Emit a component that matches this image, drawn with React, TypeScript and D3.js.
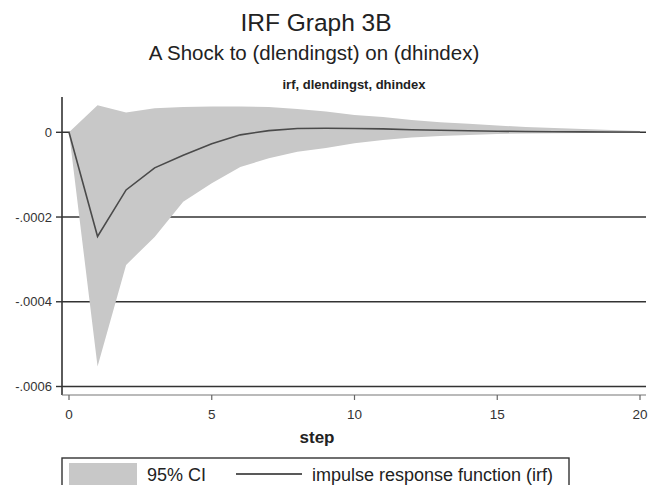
import React from "react";
import * as d3 from "d3";

const steps = d3.range(0, 21);
const irf = [0, -0.000246, -0.000136, -0.000084, -0.000054, -0.000027, -0.000006, 0.000004, 0.000009, 0.0000095, 0.000009, 0.000008, 0.000006, 0.0000047, 0.0000035, 0.0000026, 0.0000019, 0.0000014, 0.000001, 0.0000008, 0.0000006];
const ciUpper = [0, 0.000064, 0.000047, 0.000057, 0.00006, 0.000061, 0.000061, 0.00006, 0.000055, 0.000049, 0.000041, 0.000036, 0.000029, 0.000024, 0.00002, 0.000016, 0.0000125, 0.00001, 0.0000078, 0.0000054, 0.000003];
const ciLower = [0, -0.000553, -0.000313, -0.000247, -0.000164, -0.00012, -0.000082, -0.000061, -0.000046, -0.000037, -0.000026, -0.000018, -0.000012, -0.0000087, -0.0000064, -0.000004, -0.0000028, -0.000002, -0.0000016, -0.0000012, -0.0000005];
const yTicks = [0, -0.0002, -0.0004, -0.0006];
const yTickLabels = ["0", "-.0002", "-.0004", "-.0006"];
const xTicks = [0, 5, 10, 15, 20];

const FONT = "'Liberation Sans', Arial, sans-serif";

export default function App() {
  const x = d3.scaleLinear().domain([0, 20]).range([69, 640]);
  const y = d3.scaleLinear().domain([0, -0.0006]).range([132.3, 386.5]);
  const plotLeft = 62, plotRight = 646, axisTop = 97, axisBottom = 395;

  const area = d3.area<number>()
    .x((i) => x(steps[i]))
    .y0((i) => y(ciLower[i]))
    .y1((i) => y(ciUpper[i]));
  const line = d3.line<number>()
    .x((i) => x(steps[i]))
    .y((i) => y(irf[i]));
  const idx = steps.map((_, i) => i);

  return (
    <svg width={651} height={485} style={{ position: "absolute", left: 0, top: 0, background: "#fff" }} fontFamily={FONT}>
      <rect x={0} y={0} width={651} height={485} fill="#fff" />
      <text x={316} y={31} textAnchor="middle" fontSize={24.5} fill="#222">IRF Graph 3B</text>
      <text x={314} y={60} textAnchor="middle" fontSize={20.5} fill="#222">A Shock to (dlendingst) on (dhindex)</text>
      <text x={354} y={89} textAnchor="middle" fontSize={13} fontWeight="bold" fill="#222">irf, dlendingst, dhindex</text>

      {yTicks.map((t) => (
        <line key={"g" + t} x1={plotLeft} x2={plotRight} y1={y(t)} y2={y(t)} stroke="#333" strokeWidth={1.6} />
      ))}
      <path d={area(idx) || ""} fill="#c8c8c8" />
      <path d={line(idx) || ""} fill="none" stroke="#4a4a4a" strokeWidth={1.6} />

      <line x1={plotLeft} x2={plotLeft} y1={axisTop} y2={axisBottom} stroke="#333" strokeWidth={1.6} />
      {yTicks.map((t, i) => (
        <g key={"yt" + t}>
          <line x1={plotLeft - 6} x2={plotLeft} y1={y(t)} y2={y(t)} stroke="#333" strokeWidth={1.4} />
          <text x={52} y={y(t) + 4.5} textAnchor="end" fontSize={13} fill="#333">{yTickLabels[i]}</text>
        </g>
      ))}

      <line x1={plotLeft} x2={plotRight} y1={axisBottom} y2={axisBottom} stroke="#777" strokeWidth={1.2} />
      {xTicks.map((t) => (
        <g key={"xt" + t}>
          <line x1={x(t)} x2={x(t)} y1={axisBottom} y2={axisBottom + 5} stroke="#666" strokeWidth={1.2} />
          <text x={x(t)} y={419} textAnchor="middle" fontSize={13.5} fill="#333">{t}</text>
        </g>
      ))}
      <text x={317} y={443} textAnchor="middle" fontSize={17} fontWeight="bold" fill="#222">step</text>

      <rect x={62} y={458} width={507} height={40} fill="none" stroke="#333" strokeWidth={1.4} />
      <rect x={69} y={463} width={68} height={24} fill="#c8c8c8" />
      <text x={147} y={481} fontSize={18} fill="#222">95% CI</text>
      <line x1={236} x2={302} y1={474} y2={474} stroke="#222" strokeWidth={1.6} />
      <text x={312} y={481} fontSize={18} fill="#222">impulse response function (irf)</text>
    </svg>
  );
}
